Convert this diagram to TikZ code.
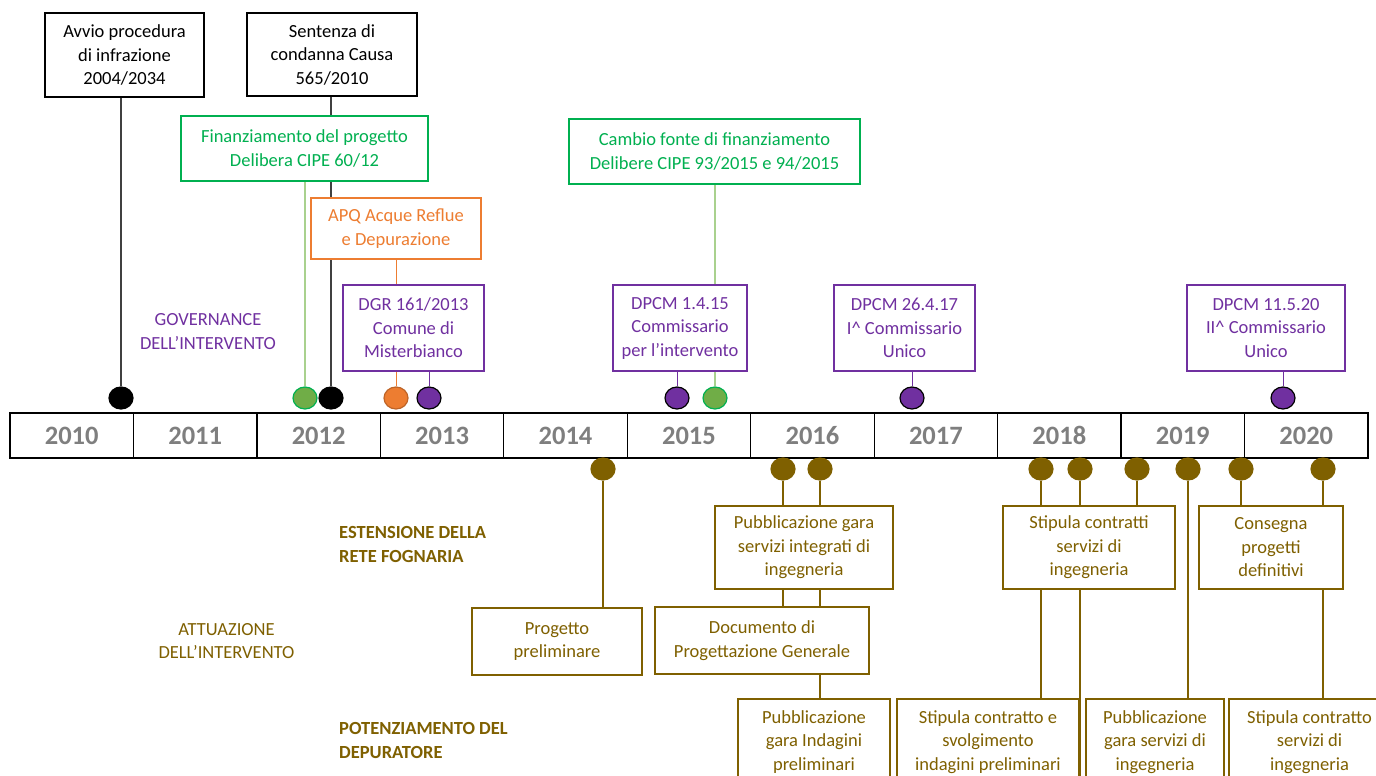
\documentclass[tikz,border=0pt]{standalone}
\usepackage{fontspec}
\setmainfont{Carlito}
\usetikzlibrary{shapes.geometric}
\usetikzlibrary{backgrounds}
\definecolor{fundgreen}{HTML}{00B050}
\definecolor{fundline}{HTML}{A9D18E}
\definecolor{funddot}{HTML}{70AD47}
\definecolor{apqorange}{HTML}{ED7D31}
\definecolor{govpurple}{HTML}{7030A0}
\definecolor{worksbrown}{HTML}{7F6000}
\definecolor{yeargray}{HTML}{7F7F7F}
\newcommand\evfont{\fontsize{18.5}{23.5}\selectfont}
\newcommand\yearfont{\fontsize{26.5}{30}\selectfont\bfseries}
\tikzset {
  % event boxes
  event/.style = {
    draw,
    fill = white,
    align = center,
    inner sep = 0,
    line width = 1.1pt,
    font = \evfont
  },
  box size/.style 2 args = {
    minimum width = #1pt,
    minimum height = #2pt
  },
  law/.style = {event, draw = black, text = black},
  fund/.style = {event, draw = fundgreen, text = fundgreen},
  apq/.style = {event, draw = apqorange, text = apqorange},
  gov/.style = {event, draw = govpurple, text = govpurple},
  works/.style = {event, draw = worksbrown, text = worksbrown},
  % side labels
  lane/.style = {align = center, inner sep = 0, font = \evfont},
  % timeline cells
  year/.style = {
    draw = black,
    line width = 1.3pt,
    minimum width = 123.45pt,
    minimum height = 45pt,
    inner sep = 0,
    text height = 17pt,
    text depth = 0pt,
    text = yeargray,
    font = \yearfont
  }
}
\tikzset {
  dot/.style = {
    ellipse,
    minimum width = 24pt,
    minimum height = 22pt,
    inner sep = 0,
    line width = 1.2pt
  },
  law dot/.style = {dot, draw = black, fill = black},
  fund dot/.style = {dot, draw = fundgreen, fill = funddot},
  apq dot/.style = {dot, draw = apqorange!80!black, fill = apqorange},
  gov dot/.style = {dot, draw = black, fill = govpurple},
  works dot/.style = {dot, draw = worksbrown, fill = worksbrown},
  % stems from dots to boxes
  law stem/.style = {draw = black!75, line width = 1.3pt},
  fund stem/.style = {draw = fundline, line width = 1.2pt},
  apq stem/.style = {draw = apqorange, line width = 1pt},
  gov stem/.style = {draw = govpurple, line width = 1pt},
  works stem/.style = {draw = worksbrown, line width = 1.3pt}
}

\begin{document}
\begin{tikzpicture}[x=1pt, y=-1pt]
    \useasboundingbox (0,0) rectangle (1376,776);
    \clip (0,0) rectangle (1376,776);

    \foreach \yr [count=\i from 0] in {2010,...,2020}
      \node[year] (y\yr) at ({71.73+123.45*\i}, 435.5) {\yr};

    % governance
    \node[law, box size={159}{84}] (avvio) at (124.5,55)
      {Avvio procedura\\di infrazione\\2004/2034};
    \node[law, box size={170}{83}] (sentenza) at (332,54.5)
      {Sentenza di\\condanna Causa\\565/2010};
    \node[fund, box size={247}{65}] (finanz) at (304.5,148.5)
      {Finanziamento del progetto\\Delibera CIPE 60/12};
    \node[apq, box size={170}{61}] (apq) at (396,228.5)
      {APQ Acque Reflue\\e Depurazione};
    \node[gov, box size={141}{86}] (dgr) at (413.5,328)
      {DGR 161/2013\\Comune di\\Misterbianco};
    \node[fund, box size={291}{65}] (cambio) at (714.5,151.5)
      {Cambio fonte di finanziamento\\Delibere CIPE 93/2015 e 94/2015};
    \node[gov, box size={134}{86}] (dpcm15) at (680,328)
      {DPCM 1.4.15\\Commissario\\per l'intervento};
    \node[gov, box size={141}{86}] (dpcm17) at (904.5,328)
      {DPCM 26.4.17\\I\textasciicircum{} Commissario\\Unico};
    \node[gov, box size={158}{86}] (dpcm20) at (1266,328)
      {DPCM 11.5.20\\II\textasciicircum{} Commissario\\Unico};

    \node[lane, text = govpurple] (governance) at (208,331.5)
      {GOVERNANCE\\DELL'INTERVENTO};

    \node[law dot] (avvio dot) at (121,398) {};
    \node[fund dot] (finanz dot) at (305,398) {};
    \node[law dot] (sentenza dot) at (331,398) {};
    \node[apq dot] (apq dot) at (396,398) {};
    \node[gov dot] (dgr dot) at (429,398) {};
    \node[gov dot] (dpcm15 dot) at (677,398) {};
    \node[fund dot] (cambio dot) at (715,398) {};
    \node[gov dot] (dpcm17 dot) at (912,398) {};
    \node[gov dot] (dpcm20 dot) at (1283,398) {};

    % works
    \node[works, box size={178}{83}] (pubgara) at (804,547.5)
      {Pubblicazione gara\\servizi integrati di\\ingegneria};
    \node[works, box size={170}{67}] (progprel) at (557,641.5)
      {Progetto\\preliminare};
    \node[works, box size={214}{67}] (docprog) at (762,640.5)
      {Documento di\\Progettazione Generale};
    \node[works, box size={152}{86}] (pubind) at (814,742)
      {Pubblicazione\\gara Indagini\\preliminari};
    \node[works, box size={172}{83}] (stipcontr) at (1089,547.5)
      {Stipula contratti\\servizi di\\ingegneria};
    \node[works, box size={182}{86}] (stipsvolg) at (988,742)
      {Stipula contratto e\\svolgimento\\indagini preliminari};
    \node[works, box size={138}{86}] (pubserv) at (1155,742)
      {Pubblicazione\\gara servizi di\\ingegneria};
    \node[works, box size={144}{83}] (consegna) at (1271,547.5)
      {Consegna\\progetti\\definitivi};
    \node[works, box size={161}{86}] (stipserv) at (1309.5,742)
      {Stipula contratto\\servizi di\\ingegneria};

    \node[lane, text = worksbrown, font = \evfont\bfseries, align = left,
      anchor = west] (estensione) at (339,544.5)
      {ESTENSIONE DELLA\\RETE FOGNARIA};
    \node[lane, text = worksbrown] (attuazione) at (226.5,641)
      {ATTUAZIONE\\DELL'INTERVENTO};
    \node[lane, text = worksbrown, font = \evfont\bfseries, align = left,
      anchor = west] (potenziamento) at (339,740.5)
      {POTENZIAMENTO DEL\\DEPURATORE};

    \node[works dot] (prel dot) at (603,469) {};
    \node[works dot] (pub dot a) at (783,469) {};
    \node[works dot] (pub dot b) at (820,469) {};
    \node[works dot] (stip dot a) at (1041,469) {};
    \node[works dot] (stip dot b) at (1080,469) {};
    \node[works dot] (stip dot c) at (1137,469) {};
    \node[works dot] (serv dot) at (1188,469) {};
    \node[works dot] (cons dot a) at (1241,469) {};
    \node[works dot] (cons dot b) at (1323,469) {};

    \begin{scope}[on background layer]
      \fill[white] (0,0) rectangle (1376,776);

      \draw[law stem] (avvio dot) -- (avvio dot |- avvio.south);
      \draw[law stem] (sentenza dot) -- (sentenza dot |- sentenza.south);
      \draw[fund stem] (finanz dot) -- (finanz dot |- finanz.south);
      \draw[apq stem] (apq dot) -- (apq dot |- apq.south);
      \draw[gov stem] (dgr dot) -- (dgr dot |- dgr.south);
      \draw[gov stem] (dpcm15 dot) -- (dpcm15 dot |- dpcm15.south);
      \draw[fund stem] (cambio dot) -- (cambio dot |- cambio.south);
      \draw[gov stem] (dpcm17 dot) -- (dpcm17 dot |- dpcm17.south);
      \draw[gov stem] (dpcm20 dot) -- (dpcm20 dot |- dpcm20.south);

      \draw[works stem] (prel dot) -- (prel dot |- progprel.north);
      \draw[works stem] (pub dot a) -- (pub dot a |- docprog.north);
      \draw[works stem] (pub dot b) -- (pub dot b |- pubind.north);
      \draw[works stem] (stip dot a) -- (stip dot a |- stipsvolg.north);
      \draw[works stem] (stip dot b) -- (stip dot b |- stipsvolg.south);
      \draw[works stem] (stip dot c) -- (stip dot c |- stipcontr.north);
      \draw[works stem] (serv dot) -- (serv dot |- pubserv.north);
      \draw[works stem] (cons dot a) -- (cons dot a |- consegna.north);
      \draw[works stem] (cons dot b) -- (cons dot b |- stipserv.north);
    \end{scope}
\end{tikzpicture}
\end{document}
